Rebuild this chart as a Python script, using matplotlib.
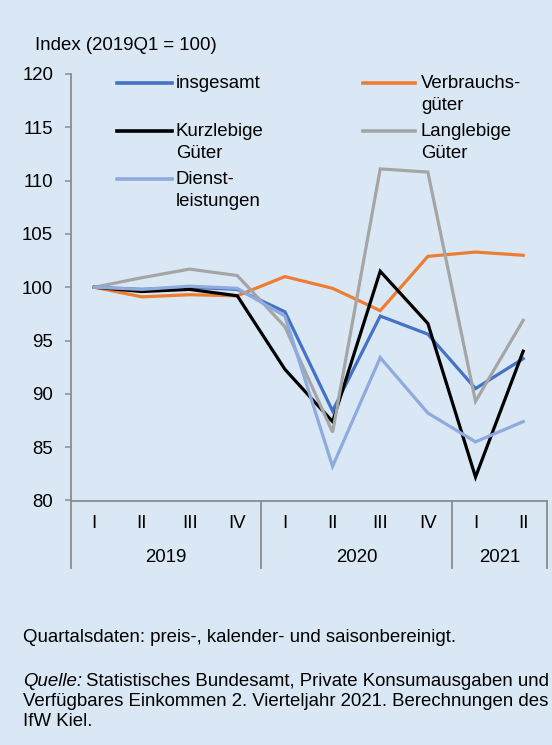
import numpy as np
import matplotlib
matplotlib.use('Agg')
import matplotlib.pyplot as plt
from matplotlib.lines import Line2D

plt.rcParams['font.family'] = ['Liberation Sans', 'DejaVu Sans']

W, H = 552, 745
BG = '#DAE8F5'
AX_GRAY = '#8C8C8C'
FS = 13.4

quarters = ['I', 'II', 'III', 'IV', 'I', 'II', 'III', 'IV', 'I', 'II']
years = ['2019', '2020', '2021']
year_len = [4, 4, 2]

insgesamt = [100.0, 99.8, 100.0, 99.8, 97.7, 88.4, 97.3, 95.6, 90.5, 93.3]
verbrauch = [100.0, 99.1, 99.3, 99.2, 101.0, 99.9, 97.8, 102.9, 103.3, 103.0]
kurzlebig = [100.0, 99.6, 99.8, 99.2, 92.3, 87.4, 101.5, 96.6, 82.2, 94.0]
langlebig = [100.0, 100.9, 101.7, 101.1, 96.3, 86.4, 111.1, 110.8, 89.3, 96.9]
dienst = [100.0, 99.8, 100.1, 99.9, 97.3, 83.2, 93.4, 88.2, 85.5, 87.4]

series = [
    ('insgesamt', insgesamt, '#4472C4'),
    ('Verbrauchs-\ngüter', verbrauch, '#ED7D31'),
    ('Kurzlebige\nGüter', kurzlebig, '#000000'),
    ('Langlebige\nGüter', langlebig, '#A5A5A5'),
    ('Dienst-\nleistungen', dienst, '#8FAADC'),
]
# Legendenplätze (Spalte, Zeile)
slots = [(0, 0), (1, 0), (0, 1), (1, 1), (0, 2)]


def px(x, y):
    """Pixel -> Figure-Koordinaten"""
    return x / W, 1 - y / H


fig = plt.figure(figsize=(W / 100, H / 100), dpi=100, facecolor=BG)
x0, y0 = px(70.5, 500.5)
x1, y1 = px(547, 74)
ax = fig.add_axes([x0, y0, x1 - x0, y1 - y0], facecolor=BG)

x = np.arange(len(quarters))
for label, vals, color in series:
    ax.plot(x, vals, color=color, linewidth=2.3, solid_joinstyle='miter')

ax.set_xlim(-0.5, len(quarters) - 0.5)
ax.set_ylim(80, 120)
ax.set_yticks(np.arange(80, 121, 5))
ax.tick_params(axis='y', direction='out', length=4, width=1.1, color=AX_GRAY,
               labelsize=FS, pad=8.5)
ax.set_xticks([])
for s in ['top', 'right']:
    ax.spines[s].set_visible(False)
for s in ['left', 'bottom']:
    ax.spines[s].set_color(AX_GRAY)
    ax.spines[s].set_linewidth(1.3)

# Quartals- und Jahresbeschriftung
tr = ax.get_xaxis_transform()
ax_h = 500.5 - 74
q_y = -(523 - 500.5) / ax_h
yr_y = -(557 - 500.5) / ax_h
sep_y = -(568 - 500.5) / ax_h
for i, q in enumerate(quarters):
    ax.text(i, q_y, q, transform=tr, ha='center', va='center', fontsize=FS)
start = 0
bounds = [-0.5]
for yr, n in zip(years, year_len):
    ax.text(start + (n - 1) / 2, yr_y, yr, transform=tr, ha='center', va='center', fontsize=FS)
    start += n
    bounds.append(start - 0.5)
for b in bounds:
    ax.plot([b, b], [0, sep_y], transform=tr, color=AX_GRAY, linewidth=1.3, clip_on=False)

# Legende (manuell, Linie auf Höhe der ersten Textzeile)
col_x = [(117, 172, 176), (363, 415, 421)]
row_y = [83, 131, 179]
for (label, vals, color), (c, r) in zip(series, slots):
    lx0, lx1, tx = col_x[c]
    ly = row_y[r]
    a, b = px(lx0, ly)
    a2, _ = px(lx1, ly)
    fig.add_artist(Line2D([a, a2], [b, b], color=color, linewidth=2.6, transform=fig.transFigure))
    for k, line in enumerate(label.split('\n')):
        fx, fy = px(tx, ly + k * 23)
        fig.text(fx, fy, line, ha='left', va='center', fontsize=FS)

fig.text(*px(35, 45), 'Index (2019Q1 = 100)', ha='left', va='center', fontsize=FS)

# Fußnote
fig.text(*px(23, 638), 'Quartalsdaten: preis-, kalender- und saisonbereinigt.',
         ha='left', va='center', fontsize=FS)
q = fig.text(*px(23, 682), 'Quelle:', ha='left', va='center', fontsize=FS, style='italic')
renderer = fig.canvas.get_renderer()
bb = q.get_window_extent(renderer)
fig.text((bb.x1 + 4) / W, 1 - 682 / H,
         'Statistisches Bundesamt, Private Konsumausgaben und',
         ha='left', va='center', fontsize=FS)
fig.text(*px(23, 702), 'Verfügbares Einkommen 2. Vierteljahr 2021. Berechnungen des',
         ha='left', va='center', fontsize=FS)
fig.text(*px(23, 722), 'IfW Kiel.', ha='left', va='center', fontsize=FS)

fig.savefig('out.png', dpi=100, facecolor=BG)
